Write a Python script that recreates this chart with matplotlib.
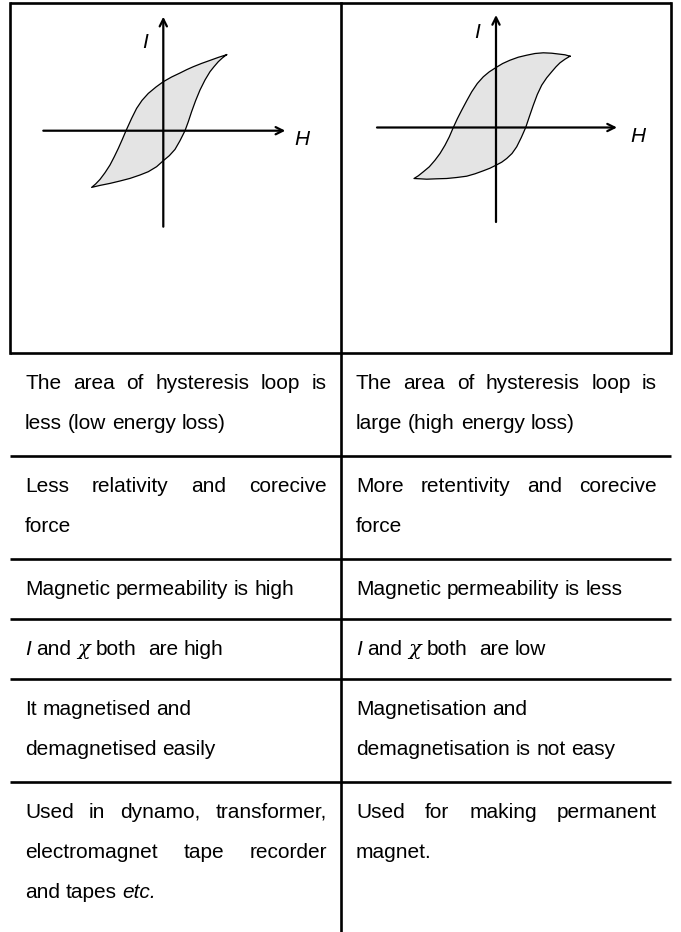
import matplotlib
matplotlib.use("Agg")
import matplotlib.pyplot as plt

W, HT = 681, 932
plt.rcParams['font.family'] = ['Liberation Sans', 'DejaVu Sans']
FS = 15

# hysteresis loops, (H, I) (1 unit = 1 px)
# soft iron: upper branch from the top tip down to the lower tip
soft_up_h = [63.3, 55.0, 46.7, 38.3, 30.0, 23.3, 16.7, 8.3, 0, -7.3, -15.0, -21.3,
             -26.7, -31.7, -37.3, -41.0, -45.0, -49.0, -53.3, -58.3, -63.3, -67.7, -71.7]
soft_up_i = [76.0, 73.3, 70.3, 67.3, 64.0, 61.0, 57.7, 53.7, 49.0, 43.7, 37.3, 30.3,
             22.3, 12.3, 0, -8.7, -17.7, -26.0, -34.3, -42.0, -48.7, -53.3, -56.7]
# soft iron: lower branch back up to the top tip
soft_lo_h = [-71.7, -63.3, -53.3, -43.3, -33.3, -23.3, -15.0, -6.7, 0, 6.0, 11.7, 16.7,
             21.7, 25.0, 28.3, 32.3, 36.7, 41.7, 46.7, 50.7, 55.0, 59.0, 63.3]
soft_lo_i = [-56.7, -54.7, -52.7, -50.3, -47.7, -44.3, -41.0, -36.0, -30.0, -25.0, -18.7, -10.0,
             0, 9.0, 19.0, 30.0, 40.7, 50.7, 59.0, 64.0, 69.0, 72.7, 76.0]

# steel
hard_up_h = [74.0, 69.0, 64.0, 55.7, 47.3, 39.0, 30.7, 22.3, 14.0, 6.7, 0, -6.7, -12.7, -18.7,
             -24.3, -29.3, -34.3, -38.7, -42.7, -46.7, -51.0, -56.0, -61.0, -66.7, -72.7, -77.7, -82.0]
hard_up_i = [71.3, 72.7, 73.3, 74.3, 74.7, 74.0, 72.3, 70.3, 67.3, 64.0, 60.0, 55.7, 50.7, 44.0,
             35.7, 26.7, 17.3, 8.7, 0, -9.3, -17.7, -26.0, -32.7, -39.3, -44.3, -48.3, -51.0]
hard_lo_h = [-82.0, -76.0, -69.3, -59.3, -49.3, -39.3, -29.3, -21.0, -12.7, -6.0, 0, 5.7, 10.7,
             16.0, 20.7, 25.3, 29.7, 33.3, 37.3, 41.3, 45.7, 50.7, 55.7, 60.0, 64.0, 69.0, 74.0]
hard_lo_i = [-51.0, -51.3, -51.7, -51.3, -51.0, -50.0, -48.7, -46.3, -43.3, -40.7, -37.7, -34.7, -31.0,
             -26.0, -19.3, -10.0, 0, 10.7, 22.3, 33.0, 42.3, 49.7, 55.7, 60.7, 64.7, 68.3, 71.3]

# table text, one list of lines per cell
left_cells = [
    ["The area of hysteresis loop is", "less (low energy loss)"],
    ["Less relativity and corecive", "force"],
    ["Magnetic permeability is high"],
    ["I and χ both  are high"],
    ["It magnetised and", "demagnetised easily"],
    ["Used in dynamo, transformer,", "electromagnet tape recorder", "and tapes etc."],
]
right_cells = [
    ["The area of hysteresis loop is", "large (high energy loss)"],
    ["More retentivity and corecive", "force"],
    ["Magnetic permeability is less"],
    ["I and χ both  are low"],
    ["Magnetisation and", "demagnetisation is not easy"],
    ["Used for making permanent", "magnet."],
]
# cells whose lines are broken by hand (not justified)
plain_rows = [4]
italic_words = ["I", "etc."]
greek_words = ["χ"]

fig = plt.figure(figsize=(W / 100, HT / 100), dpi=100)
fig.patch.set_facecolor('white')
ax = fig.add_axes([0, 0, 1, 1])
ax.set_xlim(0, W)
ax.set_ylim(HT, 0)
ax.axis('off')
r = fig.canvas.get_renderer()


def word_text(x, y, w):
    kw = dict(fontsize=FS, va='baseline', ha='left', color='black')
    if w in italic_words:
        kw['style'] = 'italic'
    if w in greek_words:
        kw['style'] = 'italic'
        kw['family'] = ['DejaVu Serif']
    return ax.text(x, y, w, **kw)


def width(t):
    return t.get_window_extent(r).width


t1 = ax.text(0, 0, "nn", fontsize=FS)
t2 = ax.text(0, 0, "n n", fontsize=FS)
SPACE = width(t2) - width(t1)
t1.remove()
t2.remove()


def put_line(x0, x1, y, line, justify):
    words = line.split(' ')
    arts = [word_text(0, y, w) if w else None for w in words]
    ws = [width(a) if a else 0 for a in arts]
    if justify and len(words) > 1:
        gap = (x1 - x0 - sum(ws)) / (len(words) - 1)
    else:
        gap = SPACE
    x = x0
    for a, w in zip(arts, ws):
        if a is not None:
            a.set_x(x)
        x += w + gap


# table geometry
top = 3
fig_row_bottom = 353
xl, xm, xr = 10, 341, 671
lw_tab = 1.9

row_tops = []
y = fig_row_bottom
for k, cell in enumerate(left_cells):
    row_tops.append(y)
    n = max(len(cell), len(right_cells[k]))
    y += 60 + 43 * (n - 1)

ax.plot([xl, xr], [top, top], color='black', lw=lw_tab, solid_capstyle='butt')
for yt in row_tops:
    ax.plot([xl, xr], [yt, yt], color='black', lw=lw_tab, solid_capstyle='butt')
ax.plot([xl, xl], [top, fig_row_bottom], color='black', lw=lw_tab)
ax.plot([xr, xr], [top, fig_row_bottom], color='black', lw=lw_tab)
ax.plot([xm, xm], [top, HT], color='black', lw=lw_tab)

for k, yt in enumerate(row_tops):
    for cell, x0, x1 in [(left_cells[k], 25, 327), (right_cells[k], 356, 657)]:
        for j, line in enumerate(cell):
            just = (j < len(cell) - 1) and (k not in plain_rows)
            put_line(x0, x1, yt + 36 + 40 * j, line, just)


def draw_loop(ox, oy, uh, ui, lh, li, h_ax, i_ax, i_pos, h_pos):
    a = fig.add_axes([(ox - 135) / W, 1 - (oy + 110) / HT, 300 / W, 235 / HT])
    a.set_xlim(-135, 165)
    a.set_ylim(-110, 125)
    a.axis('off')
    hs = uh + lh[1:]
    is_ = ui + li[1:]
    a.fill(hs, is_, color='#e4e4e4', lw=0)
    a.plot(hs, is_, color='black', lw=0.9, solid_joinstyle='round')
    arrow = dict(arrowstyle='->', lw=1.6, color='black', shrinkA=0, shrinkB=0,
                 mutation_scale=13)
    a.annotate('', xy=(h_ax[1], 0), xytext=(h_ax[0], 0), arrowprops=arrow)
    a.annotate('', xy=(0, i_ax[1]), xytext=(0, i_ax[0]), arrowprops=arrow)
    a.text(i_pos[0], i_pos[1], 'I', style='italic', fontsize=FS, ha='center', va='center')
    a.text(h_pos[0], h_pos[1], 'H', style='italic', fontsize=FS, ha='center', va='center')


draw_loop(163.3, 130.7, soft_up_h, soft_up_i, soft_lo_h, soft_lo_i,
          (-120, 122), (-96, 114), (-18, 88), (139, -9))
draw_loop(496, 127.5, hard_up_h, hard_up_i, hard_lo_h, hard_lo_i,
          (-119, 121), (-94.5, 112.5), (-19, 94.5), (142, -9.5))

fig.savefig('out.png', dpi=100)
